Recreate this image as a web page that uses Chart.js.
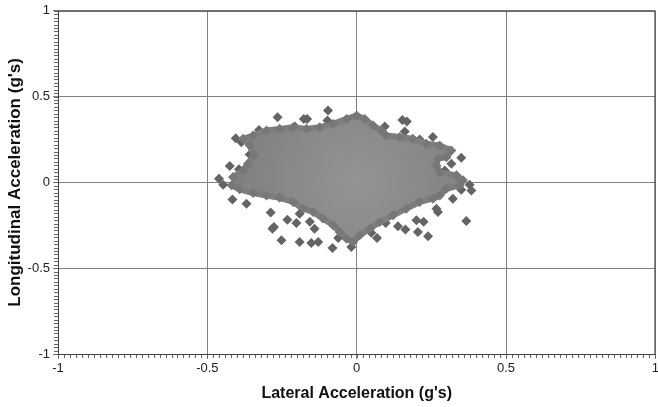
<!DOCTYPE html>
<html>
<head>
<meta charset="utf-8">
<script src="https://cdn.jsdelivr.net/npm/chart.js@4.4.0/dist/chart.umd.min.js"></script>
<style>
  html, body { margin: 0; padding: 0; background: #fff; overflow: hidden; }
  #wrap { width: 658px; height: 407px; overflow: hidden; }
</style>
</head>
<body>
<div id="wrap"><canvas id="grafica" width="661" height="407"></canvas></div>
<script>
// Ejes (g's)
const ticksX = [-1, -0.5, 0, 0.5, 1];
const ticksY = [-1, -0.5, 0, 0.5, 1];

// Contorno de la nube densa de lecturas (lateral, longitudinal)
const nubeLat = [-0.414, -0.38, -0.364, -0.344, -0.358, -0.38, -0.347, -0.302, -0.258, -0.213, -0.168, -0.124, -0.079, -0.034, 0,
  0.027, 0.055, 0.083, 0.099, 0.144, 0.188, 0.233, 0.278, 0.317, 0.3, 0.272, 0.267, 0.278, 0.334, 0.356, 0.345, 0.3, 0.278,
  0.255, 0.211, 0.166, 0.122, 0.077, 0.044, 0.01, -0.012, -0.034, -0.057, -0.079, -0.113, -0.146, -0.18, -0.213, -0.258,
  -0.302, -0.347, -0.392, -0.419];
const nubeLon = [0.031, 0.07, 0.108, 0.16, 0.215, 0.254, 0.273, 0.302, 0.312, 0.322, 0.312, 0.322, 0.341, 0.37, 0.39,
  0.37, 0.331, 0.302, 0.273, 0.264, 0.254, 0.225, 0.215, 0.186, 0.147, 0.138, 0.099, 0.06, 0.041, 0.012, -0.017, -0.037, -0.076,
  -0.095, -0.114, -0.153, -0.192, -0.231, -0.27, -0.308, -0.347, -0.328, -0.289, -0.25, -0.211, -0.172, -0.153, -0.114, -0.09,
  -0.076, -0.062, -0.04, -0.017];

// Lecturas sueltas fuera de la nube
const sueltosLat = [-0.265, -0.177, -0.166, -0.096, -0.098, -0.207, -0.327, -0.405, -0.386, -0.358, -0.425, -0.394, -0.461,
  -0.447, -0.416, -0.369, -0.288, -0.282, -0.277, -0.252, -0.191, -0.152, -0.129, -0.081, -0.062, -0.018, -0.232, -0.202,
  -0.157, -0.141, -0.191,
  0.153, 0.168, 0.094, 0.161, 0.255, 0.211, 0.309, 0.35, 0.317, 0.295, 0.378, 0.384, 0.35, 0.322, 0.367, 0.267, 0.272,
  0.224, 0.2, 0.205, 0.239, 0.163, 0.138, 0.097, 0.068, 0.049];
const sueltosLon = [0.38, 0.37, 0.37, 0.419, 0.36, 0.326, 0.306, 0.258, 0.234, 0.163, 0.095, 0.076, 0.021,
  -0.014, -0.099, -0.124, -0.176, -0.27, -0.26, -0.337, -0.347, -0.353, -0.347, -0.382, -0.324, -0.376, -0.217, -0.236,
  -0.23, -0.27, -0.182,
  0.364, 0.355, 0.326, 0.297, 0.264, 0.25, 0.186, 0.143, 0.108, 0.07, -0.014, -0.047, -0.043, -0.095, -0.225, -0.153, -0.172,
  -0.23, -0.221, -0.289, -0.314, -0.275, -0.256, -0.236, -0.324, -0.293];

const puntosNube = nubeLat.map((x, i) => ({ x: x, y: nubeLon[i] }));
const puntosSueltos = sueltosLat.map((x, i) => ({ x: x, y: sueltosLon[i] }));

// relleno con degradado radial, un poco mas claro al centro de la nube
function rellenoNube(context) {
    const chart = context.chart;
    const { ctx, chartArea, scales } = chart;
    if (!chartArea) return '#888';
    const cx = scales.x.getPixelForValue(0);
    const cy = scales.y.getPixelForValue(0);
    const g = ctx.createRadialGradient(cx, cy, 5, cx, cy, 120);
    g.addColorStop(0, '#939393');
    g.addColorStop(1, '#808080');
    return g;
}

// etiquetas sin decimales sobrantes: 1, 0.5, 0 ...
const formato = v => String(Number(v));

// marcas menores cada 0.02 en ambos ejes + marco
const marcasMenores = {
    id: 'marcasMenores',
    afterDraw(chart) {
        const { ctx, chartArea, scales } = chart;
        ctx.save();
        ctx.strokeStyle = '#666';
        ctx.lineWidth = 1;
        ctx.beginPath();
        for (let i = 0; i <= 100; i++) {
            const v = -1 + i * 0.02;
            const px = Math.round(scales.x.getPixelForValue(v)) + 0.5;
            ctx.moveTo(px, chartArea.bottom);
            ctx.lineTo(px, chartArea.bottom + 4);
            const py = Math.round(scales.y.getPixelForValue(v)) + 0.5;
            ctx.moveTo(chartArea.left - 4, py);
            ctx.lineTo(chartArea.left, py);
        }
        ctx.stroke();
        ctx.strokeStyle = '#444';
        ctx.strokeRect(chartArea.left + 0.5, chartArea.top + 0.5, chartArea.right - chartArea.left - 1, chartArea.bottom - chartArea.top);
        ctx.restore();
    }
};

const fuente = { family: "'Liberation Sans', Arial, sans-serif" };

new Chart(document.getElementById('grafica'), {
    type: 'scatter',
    data: {
        datasets: [{
            data: puntosNube,
            showLine: true,
            fill: 'shape',
            backgroundColor: rellenoNube,
            borderColor: '#7e7e7e',
            borderWidth: 6,
            borderJoinStyle: 'round',
            pointStyle: 'rectRot',
            pointRadius: 5,
            pointBackgroundColor: '#777',
            pointBorderWidth: 0
        }, {
            data: puntosSueltos,
            pointStyle: 'rectRot',
            pointRadius: 5,
            pointBackgroundColor: '#646464',
            pointBorderWidth: 0
        }]
    },
    options: {
        responsive: false,
        animation: false,
        layout: { padding: { top: 9, right: 0, left: 0, bottom: 0 } },
        plugins: { legend: { display: false }, tooltip: { enabled: false } },
        scales: {
            x: {
                min: -1, max: 1,
                afterBuildTicks: s => { s.ticks = ticksX.map(v => ({ value: v })); },
                afterFit: s => { s.height = 53; },
                grid: { color: '#808080', tickLength: 5, tickColor: '#808080' },
                border: { display: false },
                ticks: { color: '#222', font: { ...fuente, size: 13 }, padding: 2, callback: formato },
                title: { display: true, text: "Lateral Acceleration (g's)", color: '#111',
                         font: { ...fuente, size: 16, weight: 'bold' }, padding: { top: 3 } }
            },
            y: {
                min: -1, max: 1,
                afterBuildTicks: s => { s.ticks = ticksY.map(v => ({ value: v })); },
                afterFit: s => { s.width = 58; },
                grid: { color: '#808080', tickLength: 5, tickColor: '#808080' },
                border: { display: false },
                ticks: { color: '#222', font: { ...fuente, size: 13 }, padding: 3, callback: formato },
                title: { display: true, text: "Longitudinal Acceleration (g's)", color: '#111',
                         font: { ...fuente, size: 17, weight: 'bold' }, padding: { top: 5, bottom: 0 } }
            }
        }
    },
    plugins: [marcasMenores]
});
</script>
</body>
</html>
